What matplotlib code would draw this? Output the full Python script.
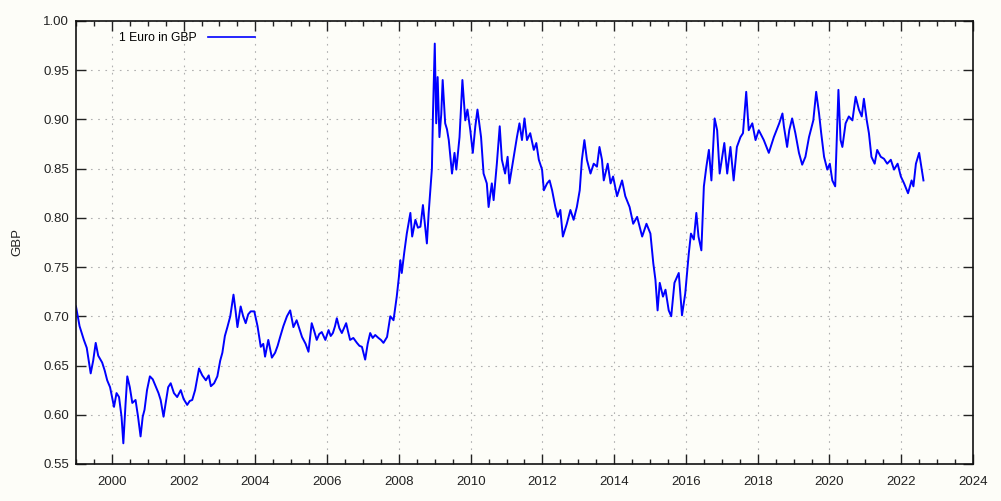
import matplotlib
matplotlib.use('Agg')
import matplotlib.pyplot as plt
from matplotlib.ticker import MultipleLocator, FormatStrFormatter

# EUR/GBP (decimal year, GBP per 1 EUR)
years = [
    1999.00, 1999.10, 1999.22, 1999.30, 1999.41, 1999.48, 1999.55, 1999.62, 1999.73, 1999.80,
    1999.87, 1999.95, 2000.06, 2000.13, 2000.20, 2000.27, 2000.32, 2000.38, 2000.43, 2000.50,
    2000.57, 2000.66, 2000.73, 2000.80, 2000.86, 2000.91, 2000.98, 2001.06, 2001.14, 2001.22,
    2001.30, 2001.36, 2001.44, 2001.50, 2001.57, 2001.64, 2001.73, 2001.82, 2001.92, 2002.00,
    2002.10, 2002.17, 2002.24, 2002.32, 2002.43, 2002.52, 2002.62, 2002.70, 2002.76, 2002.85,
    2002.94, 2003.02, 2003.08, 2003.15, 2003.22, 2003.30, 2003.39, 2003.45, 2003.50, 2003.59,
    2003.66, 2003.73, 2003.80, 2003.87, 2003.97, 2004.06, 2004.15, 2004.22, 2004.27, 2004.36,
    2004.46, 2004.55, 2004.62, 2004.69, 2004.78, 2004.88, 2004.97, 2005.06, 2005.15, 2005.22,
    2005.30, 2005.40, 2005.48, 2005.57, 2005.64, 2005.71, 2005.78, 2005.85, 2005.95, 2006.04,
    2006.10, 2006.16, 2006.22, 2006.27, 2006.34, 2006.41, 2006.53, 2006.58, 2006.64, 2006.73,
    2006.83, 2006.90, 2006.97, 2007.06, 2007.13, 2007.20, 2007.27, 2007.34, 2007.43, 2007.50,
    2007.57, 2007.67, 2007.76, 2007.85, 2007.94, 2008.00, 2008.04, 2008.08, 2008.15, 2008.22,
    2008.32, 2008.37, 2008.46, 2008.53, 2008.60, 2008.67, 2008.72, 2008.78, 2008.83, 2008.88,
    2008.92, 2008.95, 2009.00, 2009.04, 2009.08, 2009.13, 2009.18, 2009.22, 2009.29, 2009.34,
    2009.39, 2009.44, 2009.48, 2009.55, 2009.60, 2009.69, 2009.77, 2009.85, 2009.91, 2009.99,
    2010.06, 2010.13, 2010.19, 2010.29, 2010.36, 2010.45, 2010.50, 2010.59, 2010.64, 2010.73,
    2010.81, 2010.87, 2010.96, 2011.03, 2011.08, 2011.20, 2011.29, 2011.36, 2011.43, 2011.50,
    2011.57, 2011.66, 2011.76, 2011.83, 2011.90, 2011.99, 2012.04, 2012.13, 2012.20, 2012.27,
    2012.36, 2012.43, 2012.50, 2012.57, 2012.68, 2012.78, 2012.87, 2012.96, 2013.04, 2013.10,
    2013.17, 2013.24, 2013.34, 2013.43, 2013.52, 2013.59, 2013.66, 2013.71, 2013.82, 2013.90,
    2013.97, 2014.08, 2014.22, 2014.31, 2014.43, 2014.53, 2014.64, 2014.78, 2014.90, 2015.01,
    2015.09, 2015.15, 2015.21, 2015.27, 2015.36, 2015.43, 2015.52, 2015.59, 2015.68, 2015.80,
    2015.89, 2015.98, 2016.08, 2016.14, 2016.22, 2016.29, 2016.35, 2016.43, 2016.50, 2016.57,
    2016.64, 2016.71, 2016.80, 2016.87, 2016.94, 2017.07, 2017.15, 2017.24, 2017.33, 2017.42,
    2017.52, 2017.59, 2017.68, 2017.75, 2017.85, 2017.94, 2018.03, 2018.17, 2018.31, 2018.45,
    2018.60, 2018.69, 2018.73, 2018.82, 2018.88, 2018.96, 2019.05, 2019.15, 2019.24, 2019.33,
    2019.43, 2019.55, 2019.63, 2019.71, 2019.77, 2019.85, 2019.94, 2020.01, 2020.08, 2020.16,
    2020.20, 2020.25, 2020.31, 2020.36, 2020.45, 2020.54, 2020.64, 2020.73, 2020.82, 2020.90,
    2020.96, 2021.04, 2021.10, 2021.17, 2021.26, 2021.33, 2021.43, 2021.52, 2021.61, 2021.71,
    2021.80, 2021.90, 2021.99, 2022.08, 2022.19, 2022.29, 2022.34, 2022.41, 2022.50, 2022.56,
    2022.62,
]
gbp = [
    0.710, 0.690, 0.676, 0.668, 0.642, 0.655, 0.673, 0.660, 0.653, 0.645,
    0.635, 0.628, 0.608, 0.622, 0.618, 0.598, 0.571, 0.610, 0.639, 0.628,
    0.612, 0.615, 0.598, 0.578, 0.598, 0.605, 0.625, 0.639, 0.636, 0.629,
    0.622, 0.615, 0.598, 0.612, 0.628, 0.632, 0.622, 0.618, 0.625, 0.616,
    0.610, 0.614, 0.615, 0.625, 0.647, 0.640, 0.635, 0.640, 0.629, 0.632,
    0.639, 0.655, 0.663, 0.680, 0.689, 0.700, 0.722, 0.705, 0.689, 0.710,
    0.700, 0.693, 0.702, 0.705, 0.705, 0.690, 0.669, 0.672, 0.659, 0.676,
    0.658, 0.663, 0.670, 0.679, 0.690, 0.700, 0.706, 0.689, 0.696, 0.688,
    0.679, 0.672, 0.664, 0.693, 0.685, 0.676, 0.682, 0.684, 0.676, 0.686,
    0.680, 0.683, 0.690, 0.698, 0.688, 0.683, 0.693, 0.685, 0.676, 0.678,
    0.673, 0.670, 0.669, 0.656, 0.672, 0.683, 0.678, 0.681, 0.678, 0.676,
    0.673, 0.679, 0.700, 0.696, 0.720, 0.740, 0.757, 0.744, 0.765, 0.784,
    0.805, 0.781, 0.798, 0.790, 0.791, 0.813, 0.795, 0.774, 0.805, 0.830,
    0.850, 0.906, 0.977, 0.896, 0.943, 0.882, 0.905, 0.940, 0.896, 0.890,
    0.879, 0.860, 0.845, 0.866, 0.849, 0.882, 0.940, 0.899, 0.910, 0.889,
    0.866, 0.893, 0.910, 0.882, 0.845, 0.835, 0.811, 0.835, 0.818, 0.855,
    0.893, 0.859, 0.845, 0.862, 0.835, 0.862, 0.882, 0.896, 0.879, 0.901,
    0.879, 0.886, 0.869, 0.876, 0.859, 0.849, 0.828, 0.835, 0.838, 0.828,
    0.811, 0.801, 0.808, 0.781, 0.794, 0.808, 0.798, 0.811, 0.828, 0.859,
    0.879, 0.859, 0.845, 0.855, 0.852, 0.872, 0.859, 0.838, 0.855, 0.835,
    0.842, 0.822, 0.838, 0.822, 0.811, 0.794, 0.801, 0.781, 0.794, 0.784,
    0.754, 0.737, 0.706, 0.734, 0.720, 0.727, 0.706, 0.700, 0.734, 0.744,
    0.701, 0.723, 0.764, 0.784, 0.778, 0.805, 0.781, 0.767, 0.832, 0.852,
    0.869, 0.838, 0.901, 0.889, 0.845, 0.876, 0.845, 0.872, 0.838, 0.872,
    0.882, 0.886, 0.928, 0.889, 0.896, 0.879, 0.889, 0.879, 0.866, 0.882,
    0.896, 0.906, 0.893, 0.872, 0.889, 0.901, 0.886, 0.866, 0.854, 0.862,
    0.882, 0.899, 0.928, 0.906, 0.886, 0.862, 0.849, 0.855, 0.838, 0.832,
    0.876, 0.930, 0.879, 0.872, 0.896, 0.903, 0.899, 0.923, 0.910, 0.903,
    0.921, 0.899, 0.886, 0.862, 0.855, 0.869, 0.862, 0.860, 0.855, 0.859,
    0.849, 0.855, 0.842, 0.835, 0.825, 0.838, 0.832, 0.855, 0.866, 0.852,
    0.838,
]

bg = '#fdfdf8'
plt.rcParams['font.family'] = ['Liberation Sans', 'DejaVu Sans']

fig = plt.figure(figsize=(10.01, 5.01), dpi=100, facecolor=bg)
ax = fig.add_axes([0.0759, 0.0739, 0.8961, 0.8843], facecolor=bg)

ax.plot(years, gbp, color='#0000ff', lw=1.4, label='1 Euro in GBP')

ax.set_xlim(1999, 2024)
ax.set_ylim(0.55, 1.00)
ax.set_xticks(range(2000, 2025, 2))
ax.xaxis.set_minor_locator(MultipleLocator(0.5))
ax.yaxis.set_major_locator(MultipleLocator(0.05))
ax.yaxis.set_major_formatter(FormatStrFormatter('%.2f'))

ax.tick_params(which='both', direction='in', top=True, right=True, colors='#222222', labelsize=9.5)
ax.tick_params(which='major', length=7, width=1)
ax.tick_params(which='minor', length=3.5, width=1)
ax.tick_params(axis='x', pad=9)
ax.tick_params(axis='y', pad=5)
for s in ax.spines.values():
    s.set_linewidth(1.2)
    s.set_color('#111111')

ax.grid(True, which='major', color='#b0b0b0', lw=0.8, linestyle=(0, (1.5, 5)))

ax.set_ylabel('GBP', fontsize=9.5, color='#222222', labelpad=14)

leg = ax.legend(loc='upper left', bbox_to_anchor=(0.048, 0.975), frameon=False, markerfirst=False,
                fontsize=8.7, handlelength=3.9, handletextpad=0.9, borderpad=0, borderaxespad=0)
for h in leg.get_lines():
    h.set_linewidth(1.2)

fig.savefig('out.png', dpi=100, facecolor=bg)
